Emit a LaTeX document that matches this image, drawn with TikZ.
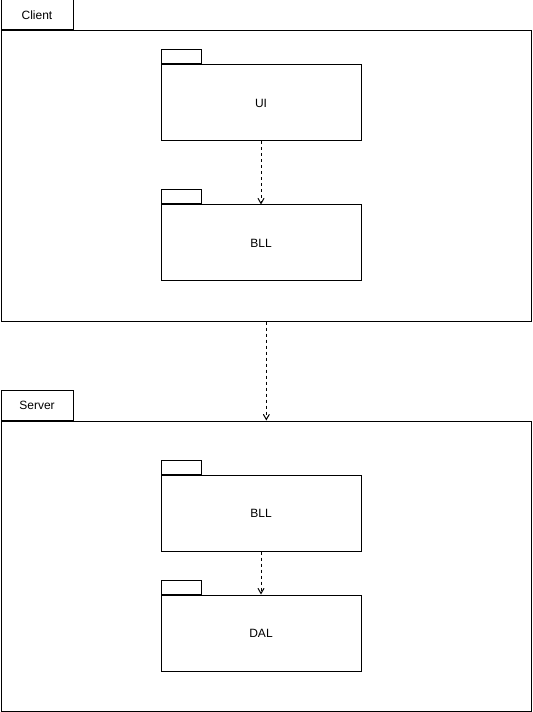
\documentclass[tikz,border=0pt]{standalone}
\usepackage{fontspec}
\setmainfont{Liberation Sans}
\usetikzlibrary{arrows,positioning}

\begin{document}
\begin{tikzpicture}[x=0.75pt,y=-0.75pt]
		\tikzstyle{frame}=[draw=black, line width=0.75pt, inner sep=0pt, minimum width=398pt, minimum height=217.5pt, anchor=north west]
		\tikzstyle{frame_tab}=[draw=black, line width=0.75pt, inner sep=0pt, minimum width=54pt, minimum height=22.5pt, anchor=south west, font=\fontsize{9}{11}\selectfont]
		\tikzstyle{package}=[draw=black, line width=0.75pt, inner sep=0pt, minimum width=150pt, minimum height=57pt, anchor=north west, font=\fontsize{9}{11}\selectfont]
		\tikzstyle{package_tab}=[draw=black, line width=0.75pt, inner sep=0pt, minimum width=30pt, minimum height=10.5pt, anchor=south west]
		\tikzstyle{dep}=[->, >=angle 60, line width=0.75pt, dash pattern=on 2.25pt off 2.25pt]

		\useasboundingbox (0,0) rectangle (532,712);

		\begin{scope}
			\node [frame] (client) at (0.5,30.5) {};
			\node [frame_tab] (client_tab) at (client.north west) {Client};

			\node [package] (ui) at (160.5,64.5) {UI};
			\node [package_tab] (ui_tab) at (ui.north west) {};

			\node [package] (bll_c) at (160.5,204.5) {BLL};
			\node [package_tab] (bll_c_tab) at (bll_c.north west) {};

			\draw [dep] (ui) -- (bll_c);
		\end{scope}

		\begin{scope}
			\node [frame] (server) at (0.5,420.5) {};
			\node [frame_tab] (server_tab) at (server.north west) {Server};

			\node [package] (bll_s) at (160.5,474.5) {BLL};
			\node [package_tab] (bll_s_tab) at (bll_s.north west) {};

			\node [package] (dal) at (160.5,594.5) {DAL};
			\node [package_tab] (dal_tab) at (dal.north west) {};

			\draw [dep] (bll_s) -- (dal);
		\end{scope}

		\draw [dep] (client) -- (server);

	\end{tikzpicture}
\end{document}
